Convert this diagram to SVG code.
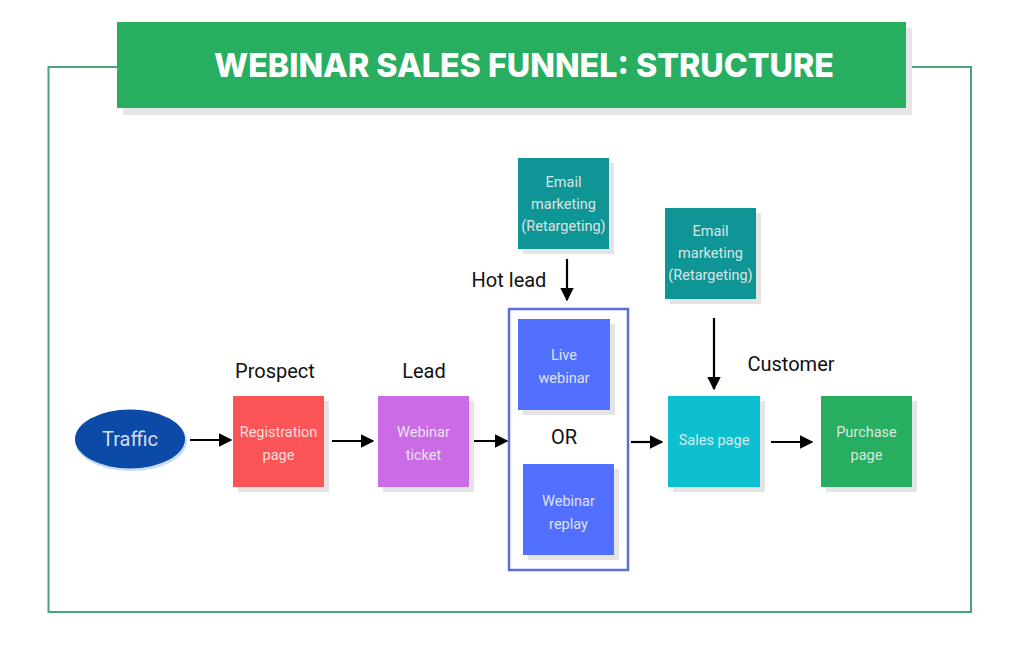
<svg xmlns="http://www.w3.org/2000/svg" width="1024" height="652" viewBox="0 0 1024 652">
<style>
.lbl{font-family:Roboto,"Liberation Sans",sans-serif;font-size:20px;fill:#111;text-anchor:middle}
.nt{font-family:Roboto,"Liberation Sans",sans-serif;font-size:14.5px;fill:#f1f1f1;fill-opacity:0.9;text-anchor:middle}
.sh{fill:#e4e4e4}
.ln{stroke:#000;stroke-width:2.2;fill:none}
</style>
<defs>
<marker id="ah" viewBox="0 0 10 10" refX="9" refY="5" markerWidth="6.2" markerHeight="6.2" markerUnits="strokeWidth" orient="auto">
<path d="M0,0 L10,5 L0,10 z" fill="#000"/>
</marker>
</defs>
<rect width="1024" height="652" fill="#fff"/>
<g id="frame">
<rect x="48.5" y="67" width="922.5" height="545" fill="none" stroke="#4aa37a" stroke-width="2"/>
</g>
<g id="header">
<rect x="123" y="28" width="789" height="87" fill="#e6e6e6"/>
<rect x="117" y="22" width="789" height="86" fill="#27ae60"/>
<text x="524" y="77" font-family="Inter,'Open Sans','Liberation Sans',sans-serif" font-weight="800" font-size="33" fill="#fff" text-anchor="middle" textLength="620" lengthAdjust="spacingAndGlyphs">WEBINAR SALES FUNNEL: STRUCTURE</text>
</g>
<g id="traffic">
<ellipse cx="131" cy="441" rx="56" ry="30" fill="#c9dcf3"/>
<ellipse cx="130" cy="439" rx="55" ry="29.5" fill="#0b4aa6"/>
<text x="130" y="446" class="nt" style="font-size:20px">Traffic</text>
</g>
<g id="registration">
<rect x="238" y="401" width="91" height="91" class="sh"/>
<rect x="233" y="396" width="91" height="91" fill="#fd5457"/>
<text x="278.5" y="437" class="nt">Registration</text>
<text x="278.5" y="460" class="nt">page</text>
</g>
<g id="ticket">
<rect x="383" y="401" width="91" height="91" class="sh"/>
<rect x="378" y="396" width="91" height="91" fill="#cb6ce6"/>
<text x="423.5" y="437" class="nt">Webinar</text>
<text x="423.5" y="460" class="nt">ticket</text>
</g>
<g id="webinar-group">
<rect x="509" y="309" width="119" height="261" fill="none" stroke="#5b6fd8" stroke-width="2.5"/>
<text x="564" y="444" class="lbl">OR</text>
</g>
<g id="live">
<rect x="523" y="324" width="92" height="91" class="sh"/>
<rect x="518" y="319" width="92" height="91" fill="#5170ff"/>
<text x="564" y="360" class="nt">Live</text>
<text x="564" y="383" class="nt">webinar</text>
</g>
<g id="replay">
<rect x="528" y="469" width="91" height="91" class="sh"/>
<rect x="523" y="464" width="91" height="91" fill="#5170ff"/>
<text x="568.5" y="506" class="nt">Webinar</text>
<text x="568.5" y="529" class="nt">replay</text>
</g>
<g id="email1">
<rect x="523" y="163" width="91" height="91" class="sh"/>
<rect x="518" y="158" width="91" height="91" fill="#0f9595"/>
<text x="563.5" y="187" class="nt">Email</text>
<text x="563.5" y="209" class="nt">marketing</text>
<text x="563.5" y="231" class="nt">(Retargeting)</text>
</g>
<g id="email2">
<rect x="670" y="213" width="91" height="91" class="sh"/>
<rect x="665" y="208" width="91" height="91" fill="#0f9595"/>
<text x="710.5" y="236" class="nt">Email</text>
<text x="710.5" y="258" class="nt">marketing</text>
<text x="710.5" y="280" class="nt">(Retargeting)</text>
</g>
<g id="sales">
<rect x="673" y="401" width="92" height="91" class="sh"/>
<rect x="668" y="396" width="92" height="91" fill="#0cc0cf"/>
<text x="714" y="445" class="nt">Sales page</text>
</g>
<g id="purchase">
<rect x="826" y="401" width="91" height="91" class="sh"/>
<rect x="821" y="396" width="91" height="91" fill="#27ae60"/>
<text x="866.5" y="437" class="nt">Purchase</text>
<text x="866.5" y="460" class="nt">page</text>
</g>
<g id="labels">
<text x="275" y="378" class="lbl">Prospect</text>
<text x="424" y="378" class="lbl">Lead</text>
<text x="509" y="287" class="lbl">Hot lead</text>
<text x="791" y="371" class="lbl">Customer</text>
</g>
<g id="connectors">
<line x1="190" y1="440" x2="231" y2="440" class="ln" marker-end="url(#ah)"/>
<line x1="332" y1="441" x2="373" y2="441" class="ln" marker-end="url(#ah)"/>
<line x1="474" y1="441" x2="507" y2="441" class="ln" marker-end="url(#ah)"/>
<line x1="631" y1="442" x2="662" y2="442" class="ln" marker-end="url(#ah)"/>
<line x1="771" y1="442" x2="812" y2="442" class="ln" marker-end="url(#ah)"/>
<line x1="567" y1="259" x2="567" y2="300" class="ln" marker-end="url(#ah)"/>
<line x1="714" y1="318" x2="714" y2="389" class="ln" marker-end="url(#ah)"/>
</g>
</svg>
